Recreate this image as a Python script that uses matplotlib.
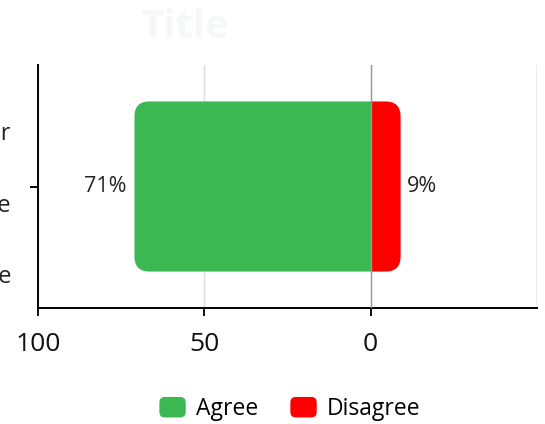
"""Diverging agree / disagree bar for a single survey statement."""
import matplotlib

matplotlib.use("Agg")

import matplotlib.pyplot as plt
from matplotlib.legend_handler import HandlerPatch
from matplotlib.patches import FancyBboxPatch, Patch, Rectangle

plt.rcParams["font.family"] = ["Open Sans", "DejaVu Sans"]

statements = ["Product quality is better\nthan the leading alternative\nat a similar price range"]
agree = [71]
disagree = [9]
series_names = ["Agree", "Disagree"]
series_colors = ["#3cb853", "#ff0000"]
x_ticks = [100, 50, 0]

DPI = 100
fig = plt.figure(figsize=(5.45, 4.24), dpi=DPI)
ax = fig.add_axes([38 / 545, 1 - 308 / 424, (537 - 38) / 545, (308 - 65) / 424])
ax.set_xlim(100, -50)
ax.set_ylim(-0.5, 0.5)

# plain bars first, then swapped for patches rounded on the outer end only
ypos = list(range(len(statements)))
bars_a = ax.barh(ypos, agree, height=0.7, color=series_colors[0])
bars_d = ax.barh(ypos, [-v for v in disagree], height=0.7, color=series_colors[1])

fig.canvas.draw()
px_x = abs(ax.transData.transform((1, 0))[0] - ax.transData.transform((0, 0))[0])
px_y = abs(ax.transData.transform((0, 1))[1] - ax.transData.transform((0, 0))[1])
radius_px = 15
rx = radius_px / px_x
aspect = (radius_px / px_y) / rx


def round_bar(bar, positive_side):
    x0, y0 = bar.get_x(), bar.get_y()
    w, h = bar.get_width(), bar.get_height()
    left, right = min(x0, x0 + w), max(x0, x0 + w)
    color = bar.get_facecolor()
    bar.set_visible(False)
    # extend past zero, then clip at zero so only the outer end is rounded
    if positive_side:
        left -= 2 * rx
        clip = Rectangle((0, -10), 1000, 20, transform=ax.transData)
    else:
        right += 2 * rx
        clip = Rectangle((-1000, -10), 1000, 20, transform=ax.transData)
    patch = FancyBboxPatch((left, y0), right - left, h,
                           boxstyle=f"round,pad=0,rounding_size={rx}",
                           mutation_aspect=aspect, fc=color, ec="none", zorder=2)
    ax.add_patch(patch)
    patch.set_clip_path(clip)


for b in bars_a:
    round_bar(b, True)
for b in bars_d:
    round_bar(b, False)

for y, a, d in zip(ypos, agree, disagree):
    ax.annotate(f"{a}%", xy=(a, y), xytext=(-8, 0), textcoords="offset pixels",
                ha="right", va="center", fontsize=15.5, color="#262626")
    ax.annotate(f"{d}%", xy=(-d, y), xytext=(6, 0), textcoords="offset pixels",
                ha="left", va="center", fontsize=15.5, color="#262626")

ax.axvline(0, color="#999999", lw=1, zorder=3)
ax.axvline(-50, color="#e6e6e6", lw=1.2, zorder=0)
ax.set_xticks(x_ticks)
ax.set_xticklabels([str(t) for t in x_ticks])
ax.grid(axis="x", color="#dddddd", lw=1, zorder=0)
ax.set_axisbelow(True)

# category text sits a little below its tick, so it is placed by hand
ax.set_yticks(ypos)
ax.set_yticklabels([""] * len(ypos))
for y, s in zip(ypos, statements):
    ax.annotate(s, xy=(0, y), xycoords=ax.get_yaxis_transform(),
                xytext=(-27, -19), textcoords="offset pixels",
                ha="right", va="center", fontsize=17, color="#222222",
                linespacing=3.62, annotation_clip=False)

for side in ("top", "right"):
    ax.spines[side].set_visible(False)
for side in ("left", "bottom"):
    ax.spines[side].set_linewidth(1.4)
ax.tick_params(axis="x", length=6, width=1.4, labelsize=19, pad=11, colors="#111111")
ax.tick_params(axis="y", length=6, width=1.4)

fig.text(185 / 545, 1 - 28 / 424, "Title", ha="center", va="center",
         fontsize=29, fontweight="bold", color="#f5f7f8")


class RoundedSwatch(HandlerPatch):
    def create_artists(self, legend, orig_handle, xdescent, ydescent, width, height, fontsize, trans):
        p = FancyBboxPatch((-xdescent, -ydescent), width, height,
                           boxstyle="round,pad=0,rounding_size=4",
                           fc=orig_handle.get_facecolor(), ec="none", transform=trans)
        return [p]


handles = [Patch(fc=c, label=n) for n, c in zip(series_names, series_colors)]
fig.legend(handles=handles, loc="center", bbox_to_anchor=(290 / 545, 1 - 409 / 424),
           ncol=2, frameon=False, fontsize=16.5, handlelength=1.15, handleheight=1.0,
           handletextpad=0.45, columnspacing=1.4,
           handler_map={Patch: RoundedSwatch()})

fig.savefig("out.png", dpi=DPI)
